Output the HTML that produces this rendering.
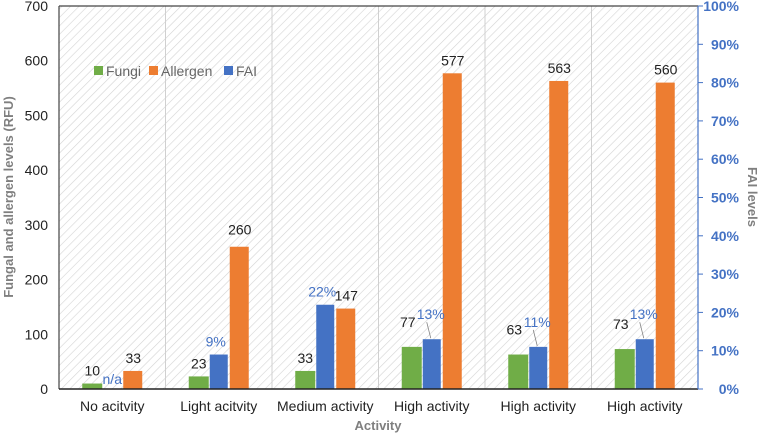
<!DOCTYPE html>
<html><head><meta charset="utf-8"><style>
body{margin:0;background:#fff;}
svg{display:block;font-family:"Liberation Sans",sans-serif;}
</style></head><body>
<svg id="chart" width="759" height="435">
<defs><pattern id="hatch" width="6" height="6" patternUnits="userSpaceOnUse" patternTransform="rotate(45)"><rect width="6" height="6" fill="#fff"/><line x1="0" y1="0" x2="0" y2="6" stroke="#d4d4d4" stroke-width="1.2"/></pattern></defs>
<rect x="59" y="6" width="639" height="383" fill="url(#hatch)"/>
<g id="grid"></g><g id="bars"></g><g id="labels"></g><g id="axes"></g>
<text x="13" y="197" transform="rotate(-90 13 197)" text-anchor="middle" font-size="13" font-weight="bold" fill="#7f7f7f">Fungal and allergen levels (RFU)</text>
<text x="748" y="197" transform="rotate(90 748 197)" text-anchor="middle" font-size="13" font-weight="bold" fill="#7f7f7f">FAI  levels</text>
<text x="378" y="430" text-anchor="middle" font-size="13" font-weight="bold" fill="#7f7f7f">Activity</text>
<g font-size="14" fill="#666">
<rect x="94" y="66" width="9" height="9" fill="#70ad47"/><text x="106" y="76">Fungi</text>
<rect x="149" y="66" width="9" height="9" fill="#ed7d31"/><text x="161" y="76">Allergen</text>
<rect x="224" y="66" width="9" height="9" fill="#4472c4"/><text x="236" y="76">FAI</text>
</g>
</svg>
<script>
const categories=["No acitvity","Light acitvity","Medium activity","High activity","High activity","High activity"];
const fungi=[10,23,33,77,63,73];
const allergen=[33,260,147,577,563,560];
const fai=[null,9,22,13,11,13];
const leftTicks=[0,100,200,300,400,500,600,700];
const rightTicks=[0,10,20,30,40,50,60,70,80,90,100];
const NS="http://www.w3.org/2000/svg";
const L=59,R=698,T=6,B=389;
const gw=(R-L)/categories.length;
const y=v=>B-(v/700)*(B-T);
const y2=p=>B-(p/100)*(B-T);
const cx=i=>L+gw*(i+0.5);
function mk(parent,tag,attrs,text){const e=document.createElementNS(NS,tag);for(const k in attrs)e.setAttribute(k,attrs[k]);if(text!==undefined)e.textContent=text;document.getElementById(parent).appendChild(e);return e;}
for(let i=1;i<categories.length;i++){const e=mk('grid','line',{x1:L+gw*i,x2:L+gw*i,y1:T,y2:B,stroke:'#d0d0d0','stroke-width':1});

}
categories.forEach((c,i)=>{
 const x0=cx(i);
 let e=mk('bars','rect',{x:x0-30,y:y(fungi[i]),width:20,height:B-y(fungi[i]),fill:'#70ad47'});
 
 
 if(fai[i]!==null){e=mk('bars','rect',{x:x0-9,y:y2(fai[i]),width:18,height:B-y2(fai[i]),fill:'#4472c4'});
 
 }
 e=mk('bars','rect',{x:x0+11,y:y(allergen[i]),width:19,height:B-y(allergen[i]),fill:'#ed7d31'});
 
 
 const hi=i>=3;
 e=mk('labels','text',{x:hi?x0-24:x0-20,y:y(fungi[i])-(hi?20:8),'text-anchor':'middle','font-size':14,fill:'#222'},String(fungi[i]));
 
 
 e=mk('labels','text',{x:x0+21,y:y(allergen[i])-(i==0?8:(i==1?12:8)),'text-anchor':'middle','font-size':14,fill:'#222'},String(allergen[i]));
 
 
 if(fai[i]===null){e=mk('labels','text',{x:x0,y:B-5,'text-anchor':'middle','font-size':14,fill:'#4472c4'},'n/a');}
 else{const ly=y2(fai[i])-(hi?20:8);
 e=mk('labels','text',{x:hi?x0-1:x0-3,y:ly,'text-anchor':'middle','font-size':14,fill:'#4472c4'},fai[i]+'%');
 if(hi){const l=mk('labels','line',{x1:x0-5,y1:ly+3,x2:x0-1,y2:y2(fai[i])-1,stroke:'#7f7f7f','stroke-width':0.8});
 
 }}
 
 
 e=mk('labels','text',{x:x0,y:411,'text-anchor':'middle','font-size':14,fill:'#222'},c);
 
 
});
leftTicks.forEach(v=>{const e=mk('axes','text',{x:48,y:y(v)+5,'text-anchor':'end','font-size':14,fill:'#222'},String(v));
 
 });
rightTicks.forEach(v=>{const e=mk('axes','text',{x:739,y:y2(v)+5,'text-anchor':'end','font-size':14,'font-weight':'bold',fill:'#4472c4'},v+'%');
 
 
 const t=mk('axes','line',{x1:R,x2:R+5,y1:y2(v),y2:y2(v),stroke:'#4472c4','stroke-width':1});
 
 });
let a=mk('axes','line',{x1:L,x2:L,y1:T,y2:B,stroke:'#444','stroke-width':1.2});


a=mk('axes','line',{x1:L,x2:R,y1:T,y2:T,stroke:'#444','stroke-width':1.2});


a=mk('axes','line',{x1:L,x2:R,y1:B,y2:B,stroke:'#222','stroke-width':1.5});


a=mk('axes','line',{x1:R,x2:R,y1:T,y2:B,stroke:'#4472c4','stroke-width':1.2});


</script>
</body></html>
